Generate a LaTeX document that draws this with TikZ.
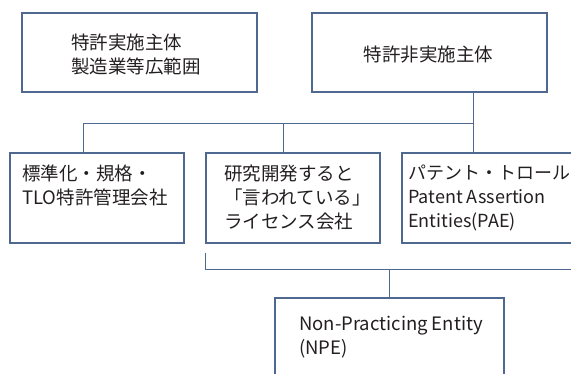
\documentclass[tikz,border=0pt]{standalone}
\usepackage{fontspec}
\setmainfont{Noto Sans CJK JP}
\definecolor{bd}{RGB}{79,104,143}
\definecolor{tx}{RGB}{35,31,32}
\begin{document}
\begin{tikzpicture}[x=1pt,y=-1pt,
  box/.style={draw=bd,line width=1.8pt,rectangle,inner sep=0pt,anchor=north west},
  conn/.style={draw=bd,line width=1pt},
  lbl/.style={inner sep=0pt,text=tx,font=\fontsize{18.5}{24}\selectfont,align=left,anchor=north west}]
\useasboundingbox (0,0) rectangle (571,374);
\clip (0,0) rectangle (571,374);
% boxes
\node[box,minimum width=235pt,minimum height=79pt] (b1) at (21,12) {};
\node[box,minimum width=235pt,minimum height=79pt] (b2) at (311,12) {};
\node[box,minimum width=174pt,minimum height=90pt] (b3) at (9,152) {};
\node[box,minimum width=174pt,minimum height=90pt] (b4) at (205,152) {};
\node[box,minimum width=174pt,minimum height=90pt] (b5) at (401,152) {};
\node[box,minimum width=229pt,minimum height=100pt] (b6) at (274,297) {};
% texts
\node[lbl] (t1) at (71,34) {特許実施主体\\製造業等広範囲};
\node[lbl,anchor=north] (t2) at (428.5,46) {特許非実施主体};
\node[lbl] (t3) at (22,165) {標準化・規格・\\TLO特許管理会社};
\node[lbl] (t4) at (224,165) {研究開発すると\\「言われている」\\ライセンス会社};
\node[lbl,font=\fontsize{18}{24}\selectfont] (t5) at (408,165) {パテント・トロール\\Patent Assertion\\Entities(PAE)};
\node[lbl] (t6) at (299,316) {Non-Practicing Entity\\(NPE)};
% connectors
\coordinate (h3) at (83,124);
\coordinate (h4) at (283,124);
\coordinate (h5) at (473,124);
\draw[conn] (b2.south -| h5) -- (h5 |- b5.north);
\draw[conn] (b3.north -| h3) -- (h3) -- (h5);
\draw[conn] (h4) -- (b4.north -| h4);
\coordinate (bk) at (205,253);
\coordinate (be) at (575,270);
\draw[conn] (bk) |- (be);
\draw[conn] (b6.north) -- (b6.north |- be);
\end{tikzpicture}
\end{document}
